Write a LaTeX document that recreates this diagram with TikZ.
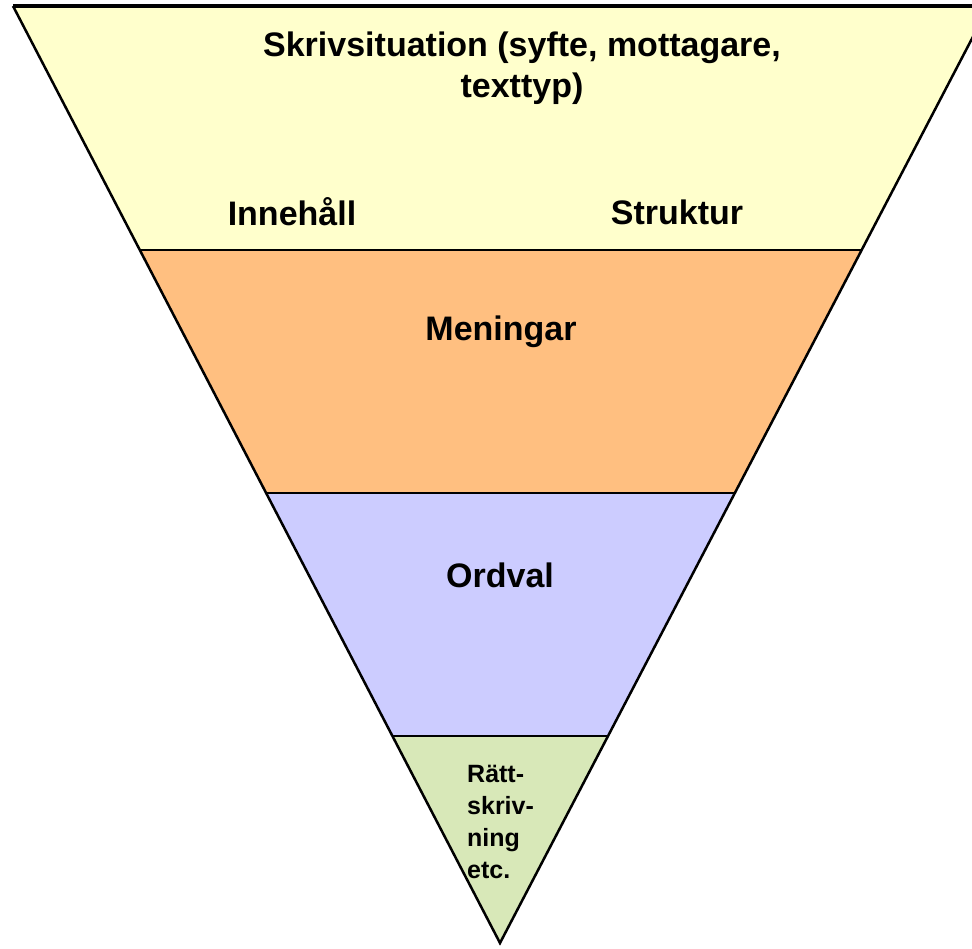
\documentclass[tikz,border=0pt]{standalone}
\usepackage{fontspec}
\setmainfont{Liberation Sans}
\usetikzlibrary{positioning}
\definecolor{bandyellow}{RGB}{255,255,204}
\definecolor{bandorange}{RGB}{255,191,128}
\definecolor{bandblue}{RGB}{204,204,255}
\definecolor{bandgreen}{RGB}{216,232,184}
\tikzset{
  band/.style={draw=black,line width=2.5pt,line join=miter},
  biglabel/.style={font=\bfseries\fontsize{34}{41}\selectfont,align=center,inner sep=0pt},
  smalllabel/.style={font=\bfseries\fontsize{25}{32}\selectfont,align=left,inner sep=0pt}
}
\begin{document}
\begin{tikzpicture}[x=1pt,y=-1pt]
\useasboundingbox (0,0) rectangle (972,948);
\clip (0,0) rectangle (972,948);

% corners of the funnel
\coordinate (tl) at (13,6);
\coordinate (tr) at (989,6);
\coordinate (apex) at (500,943);
% band borders
\coordinate (l1) at (140,250);
\coordinate (r1) at (862,250);
\coordinate (l2) at (266,493);
\coordinate (r2) at (735,493);
\coordinate (l3) at (393,736);
\coordinate (r3) at (608,736);

\fill[bandyellow] (tl) -- (tr) -- (r1) -- (l1) -- cycle;
\fill[bandorange] (l1) -- (r1) -- (r2) -- (l2) -- cycle;
\fill[bandblue] (l2) -- (r2) -- (r3) -- (l3) -- cycle;
\fill[bandgreen] (l3) -- (r3) -- (apex) -- cycle;

\draw[band] (l1) -- (r1);
\draw[band] (l2) -- (r2);
\draw[band] (l3) -- (r3);
\draw[band] (tl) -- (apex) -- (tr);
\draw[band,line width=3.5pt] (tl) -- (tr);

\node[biglabel] (situation) at (522,68) {Skrivsituation (syfte, mottagare,\\texttyp)};
\node[biglabel] (innehall) at (292,212) {Innehåll};
\node[biglabel] (struktur) at (677,212) {Struktur};
\node[biglabel] (meningar) at (501,332) {Meningar};
\node[biglabel] (ordval) at (500,575) {Ordval};
\node[smalllabel,anchor=north west] (ratt) at (467,765) {Rätt-\\skriv-\\ning\\etc.};

\end{tikzpicture}
\end{document}
